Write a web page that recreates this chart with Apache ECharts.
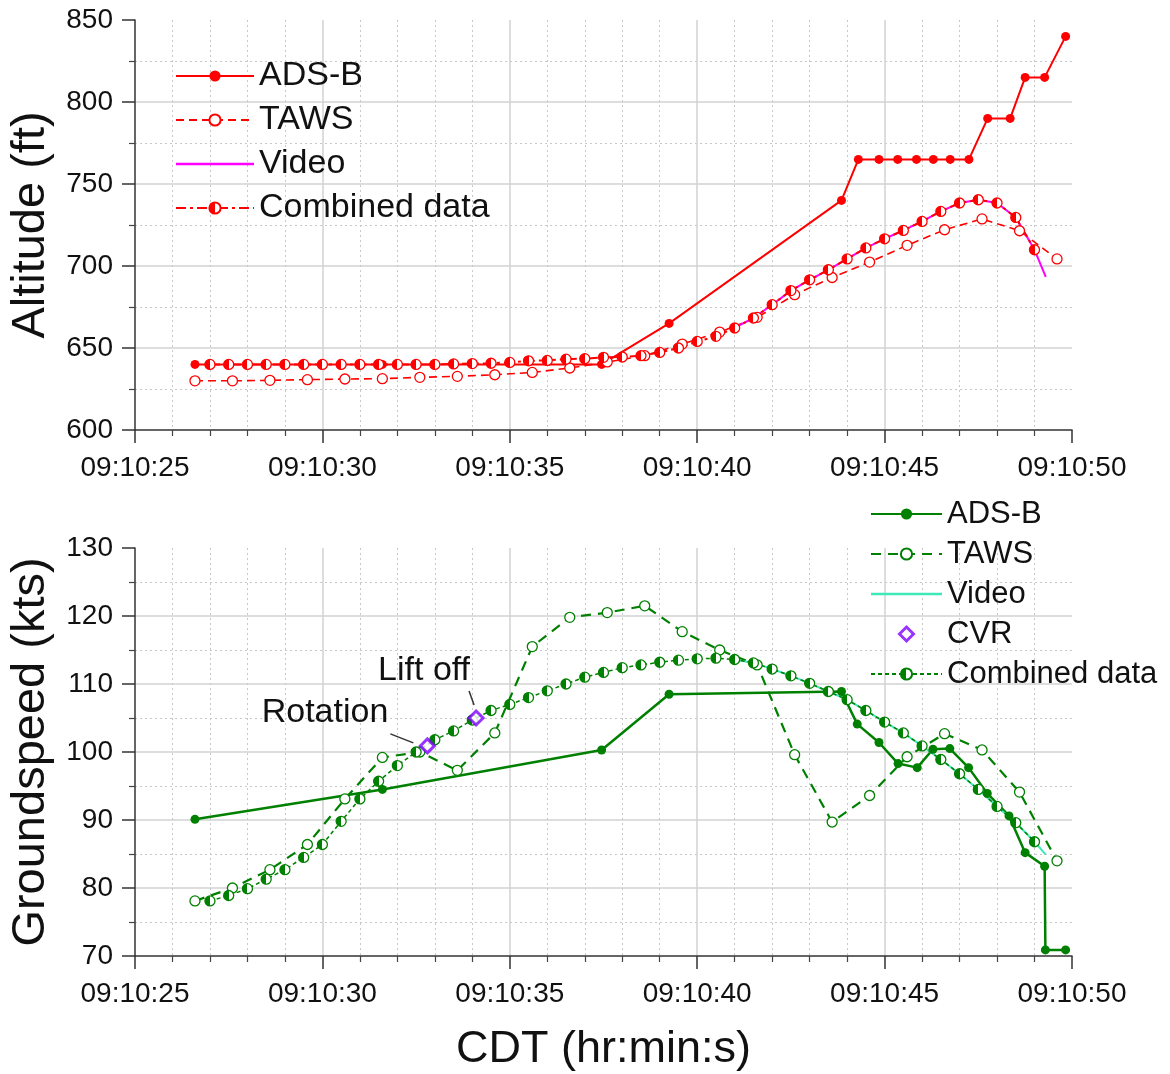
<!DOCTYPE html>
<html><head><meta charset="utf-8">
<script src="https://cdn.jsdelivr.net/npm/echarts@6/dist/echarts.min.js"></script>
<style>html,body{margin:0;padding:0;background:#fff}#c{width:1170px;height:1074px}</style>
</head><body><div id="c"></div>
<script>
// ---------- data (seconds after 09:10:00) ----------
const timeTickLabels = ['09:10:25', '09:10:30', '09:10:35', '09:10:40', '09:10:45', '09:10:50'];

const adsbTimeAlt = [26.6, 31.6, 37.45, 39.25, 43.85, 44.3, 44.85, 45.35, 45.85, 46.3, 46.75, 47.25, 47.75, 48.35, 48.75, 49.27, 49.83];
const adsbAltitude = [640, 640, 640, 665, 740, 765, 765, 765, 765, 765, 765, 765, 790, 790, 815, 815, 840];

const tawsTime = [26.6, 27.6, 28.6, 29.6, 30.6, 31.6, 32.6, 33.6, 34.6, 35.6, 36.6, 37.6, 38.6, 39.6, 40.6, 41.6, 42.6, 43.6, 44.6, 45.6, 46.6, 47.6, 48.6, 49.6];
const tawsAltitude = [630, 630, 630.3, 630.7, 631.1, 631.3, 632.1, 632.7, 633.7, 635.1, 637.8, 641.5, 645.3, 652.4, 659.7, 668.7, 682.5, 693, 702.4, 712.6, 722.1, 728.7, 721.5, 704.3];

const videoTime = [41.0, 41.5, 42.0, 42.5, 43.0, 43.5, 44.0, 44.5, 45.0, 45.5, 46.0, 46.5, 47.0, 47.5, 48.0, 48.5, 49.0, 49.3];
const videoAltitude = [662.2, 668.3, 676.4, 685.0, 691.6, 697.7, 704.3, 711.0, 716.6, 721.7, 727.2, 733.3, 738.4, 740.4, 738.4, 729.6, 709.9, 693.3];

const combinedTime = [27.0, 27.5, 28.0, 28.5, 29.0, 29.5, 30.0, 30.5, 31.0, 31.5, 32.0, 32.5, 33.0, 33.5, 34.0, 34.5, 35.0, 35.5, 36.0, 36.5, 37.0, 37.5, 38.0, 38.5, 39.0, 39.5, 40.0, 40.5, 41.0, 41.5, 42.0, 42.5, 43.0, 43.5, 44.0, 44.5, 45.0, 45.5, 46.0, 46.5, 47.0, 47.5, 48.0, 48.5, 49.0];
const combinedAltitude = [640, 640, 640, 640, 640, 640, 640, 640, 640, 640, 640, 640, 640, 640.3, 640.5, 640.7, 641.2, 642.2, 642.4, 643.2, 643.5, 644.3, 644.5, 645.3, 647.3, 650.0, 654.0, 657.1, 662.2, 668.3, 676.4, 685.0, 691.6, 697.7, 704.3, 711.0, 716.6, 721.7, 727.2, 733.3, 738.4, 740.4, 738.4, 729.6, 709.9];

const adsbTimeGs = [26.6, 31.6, 37.45, 39.25, 43.85, 44.27, 44.85, 45.36, 45.87, 46.29, 46.74, 47.24, 47.74, 48.32, 48.75, 49.27, 49.29, 49.83];
const adsbGroundspeed = [90.1, 94.5, 100.3, 108.5, 108.9, 104.1, 101.4, 98.3, 97.7, 100.4, 100.5, 97.7, 93.9, 90.6, 85.2, 83.2, 70.9, 70.9];

const tawsGroundspeed = [78.1, 80.0, 82.7, 86.4, 93.1, 99.2, 100.0, 97.3, 102.8, 115.5, 119.8, 120.5, 121.5, 117.7, 115.0, 112.8, 99.6, 89.7, 93.6, 99.3, 102.7, 100.3, 94.1, 84.0];

const videoGroundspeed = [113.6, 113.1, 112.2, 111.2, 110.1, 108.9, 107.7, 106.1, 104.4, 102.8, 100.9, 98.9, 96.8, 94.5, 92.0, 89.6, 86.8, 84.9];

const cvrTime = [32.8, 34.1];
const cvrGroundspeed = [100.9, 105.0];
const cvrLabels = ['Rotation', 'Lift off'];

const combinedGroundspeed = [78.1, 78.9, 79.9, 81.3, 82.7, 84.5, 86.4, 89.8, 93.1, 95.7, 98.0, 100.0, 101.8, 103.1, 104.7, 106.1, 107.0, 108.0, 109.0, 110.0, 111.0, 111.7, 112.4, 112.8, 113.2, 113.5, 113.7, 113.8, 113.6, 113.1, 112.2, 111.2, 110.1, 108.9, 107.7, 106.1, 104.4, 102.8, 100.9, 98.9, 96.8, 94.5, 92.0, 89.6, 86.8];

// ---------- chart ----------
const FONT = '"Liberation Sans", Arial, sans-serif';
const RED = '#ff0000', GREEN = '#008000', MAGENTA = '#ff00ff', AQUA = '#3ee8b8', PURPLE = '#8000ff';
const zip = (a, b) => a.map((v, i) => [v, b[i]]);
const halfFill = c => new echarts.graphic.LinearGradient(0, 0, 1, 0, [
  {offset: 0, color: c}, {offset: 0.5, color: c}, {offset: 0.5, color: '#fff'}, {offset: 1, color: '#fff'}]);

function xAxisCfg(gi, withName) {
  const a = {
    type: 'value', gridIndex: gi, min: 25, max: 50, interval: 5,
    axisLine: {show: true, onZero: false, lineStyle: {color: '#333', width: 1.5}},
    axisTick: {show: true, length: 13, lineStyle: {color: '#333', width: 1.5}},
    minorTick: {show: true, splitNumber: 5, length: 6, lineStyle: {color: '#444', width: 1.2}},
    axisLabel: {margin: 24, fontSize: 28, color: '#111', fontFamily: FONT,
      formatter: v => timeTickLabels[Math.round((v - 25) / 5)]},
    splitLine: {show: true, showMinLine: false, showMaxLine: false, lineStyle: {color: '#d2d2d2', width: 1.5}},
    minorSplitLine: {show: true, lineStyle: {color: '#c8c8c8', width: 1, type: [2, 3]}}
  };
  if (withName) {
    a.name = 'CDT (hr:min:s)'; a.nameLocation = 'middle'; a.nameGap = 71;
    a.nameTextStyle = {fontSize: 45, color: '#111', fontFamily: FONT};
  }
  return a;
}
function yAxisCfg(gi, min, max, interval, name, gap) {
  return {
    type: 'value', gridIndex: gi, min, max, interval,
    axisLine: {show: true, lineStyle: {color: '#333', width: 1.5}},
    axisTick: {show: true, length: 13, lineStyle: {color: '#333', width: 1.5}},
    minorTick: {show: true, splitNumber: 2, length: 6, lineStyle: {color: '#444', width: 1.2}},
    axisLabel: {margin: 22, fontSize: 28, color: '#111', fontFamily: FONT},
    splitLine: {show: true, showMinLine: false, showMaxLine: false, lineStyle: {color: '#d2d2d2', width: 1.5}},
    minorSplitLine: {show: true, lineStyle: {color: '#c8c8c8', width: 1, type: [2, 3]}},
    name, nameLocation: 'middle', nameGap: gap, nameRotate: 90,
    nameTextStyle: {fontSize: 47, color: '#111', fontFamily: FONT}
  };
}

const chart = echarts.init(document.getElementById('c'), null, {renderer: 'canvas'});
const option = {
  animation: false,
  backgroundColor: '#fff',
  textStyle: {fontFamily: FONT},
  grid: [
    {left: 134, right: 98, top: 20, height: 410},
    {left: 134, right: 98, top: 548, height: 408}
  ],
  xAxis: [xAxisCfg(0, false), xAxisCfg(1, true)],
  yAxis: [yAxisCfg(0, 600, 850, 50, 'Altitude (ft)', 80), yAxisCfg(1, 70, 130, 10, 'Groundspeed (kts)', 80)],
  legend: [
    {
      data: ['ADS-B', 'TAWS', {name: 'Video', icon: 'path://M0,0L78,0L78,2.5L0,2.5Z'}, 'Combined data'],
      orient: 'vertical', left: 170, top: 53, itemWidth: 78, itemHeight: 14, itemGap: 8,
      textStyle: {fontSize: 34, color: '#111', fontFamily: FONT, lineHeight: 36},
      selectedMode: false
    },
    {
      data: ['ADS-B ', 'TAWS ', {name: 'Video ', icon: 'path://M0,0L71,0L71,2.5L0,2.5Z'},
        {name: 'CVR', icon: 'path://M7,0L14,7L7,14L0,7Z',
          itemStyle: {color: '#fff', borderColor: PURPLE, borderWidth: 3}}, 'Combined data '],
      orient: 'vertical', left: 865, top: 492, itemWidth: 71, itemHeight: 14, itemGap: 6,
      textStyle: {fontSize: 31, color: '#111', fontFamily: FONT, lineHeight: 34},
      selectedMode: false
    }
  ],
  series: [
    // ---- altitude ----
    {name: 'ADS-B', type: 'line', xAxisIndex: 0, yAxisIndex: 0, data: zip(adsbTimeAlt, adsbAltitude),
      symbol: 'circle', symbolSize: 9, itemStyle: {color: RED}, lineStyle: {color: RED, width: 2}},
    {name: 'TAWS', type: 'line', xAxisIndex: 0, yAxisIndex: 0, data: zip(tawsTime, tawsAltitude),
      symbol: 'circle', symbolSize: 10, itemStyle: {color: '#fff', borderColor: RED, borderWidth: 1.3},
      lineStyle: {color: RED, width: 1.6, type: [8, 5]}},
    {name: 'Video', type: 'line', xAxisIndex: 0, yAxisIndex: 0, data: zip(videoTime, videoAltitude),
      symbol: 'none', itemStyle: {color: MAGENTA}, lineStyle: {color: MAGENTA, width: 2}},
    {name: 'Combined data', type: 'line', xAxisIndex: 0, yAxisIndex: 0, data: zip(combinedTime, combinedAltitude),
      symbol: 'circle', symbolSize: 10, itemStyle: {color: halfFill(RED), borderColor: RED, borderWidth: 1.3},
      lineStyle: {color: RED, width: 2, type: [10, 4, 3, 4]}},
    // ---- groundspeed ----
    {name: 'ADS-B ', type: 'line', xAxisIndex: 1, yAxisIndex: 1, data: zip(adsbTimeGs, adsbGroundspeed),
      symbol: 'circle', symbolSize: 9, itemStyle: {color: GREEN}, lineStyle: {color: GREEN, width: 2.5}},
    {name: 'TAWS ', type: 'line', xAxisIndex: 1, yAxisIndex: 1, data: zip(tawsTime, tawsGroundspeed),
      symbol: 'circle', symbolSize: 10, itemStyle: {color: '#fff', borderColor: GREEN, borderWidth: 1.3},
      lineStyle: {color: GREEN, width: 2.2, type: [10, 7]}},
    {name: 'Video ', type: 'line', xAxisIndex: 1, yAxisIndex: 1, data: zip(videoTime, videoGroundspeed),
      symbol: 'none', itemStyle: {color: AQUA}, lineStyle: {color: AQUA, width: 2}},
    {name: 'CVR', type: 'scatter', xAxisIndex: 1, yAxisIndex: 1, data: zip(cvrTime, cvrGroundspeed), z: 5,
      symbol: 'diamond', symbolSize: 14, itemStyle: {color: '#fff', borderColor: PURPLE, borderWidth: 3}},
    {name: 'Combined data ', type: 'line', xAxisIndex: 1, yAxisIndex: 1, data: zip(combinedTime, combinedGroundspeed),
      symbol: 'circle', symbolSize: 10, itemStyle: {color: halfFill(GREEN), borderColor: GREEN, borderWidth: 1.3},
      lineStyle: {color: GREEN, width: 1.5, type: [4, 3]}}
  ]
};
chart.setOption(option);

// annotations anchored on the CVR points
const annOffsets = [
  {tx: -39, ty: -33, l: [-37, -12, -14, -3]},
  {tx: -6, ty: -47, l: [-7, -27, -2, -13]}
];
const graphics = [];
cvrTime.forEach((t, i) => {
  const p = chart.convertToPixel({xAxisIndex: 1, yAxisIndex: 1}, [t, cvrGroundspeed[i]]);
  const o = annOffsets[i];
  graphics.push({type: 'text', x: p[0] + o.tx, y: p[1] + o.ty, z: 10,
    style: {text: cvrLabels[i], fontSize: 34, fontFamily: FONT, fill: '#111', textAlign: 'right', textVerticalAlign: 'middle'}});
  graphics.push({type: 'line', z: 10, shape: {x1: p[0] + o.l[0], y1: p[1] + o.l[1], x2: p[0] + o.l[2], y2: p[1] + o.l[3]},
    style: {stroke: '#333', lineWidth: 1.5}});
});
chart.setOption({graphic: graphics});
</script></body></html>
